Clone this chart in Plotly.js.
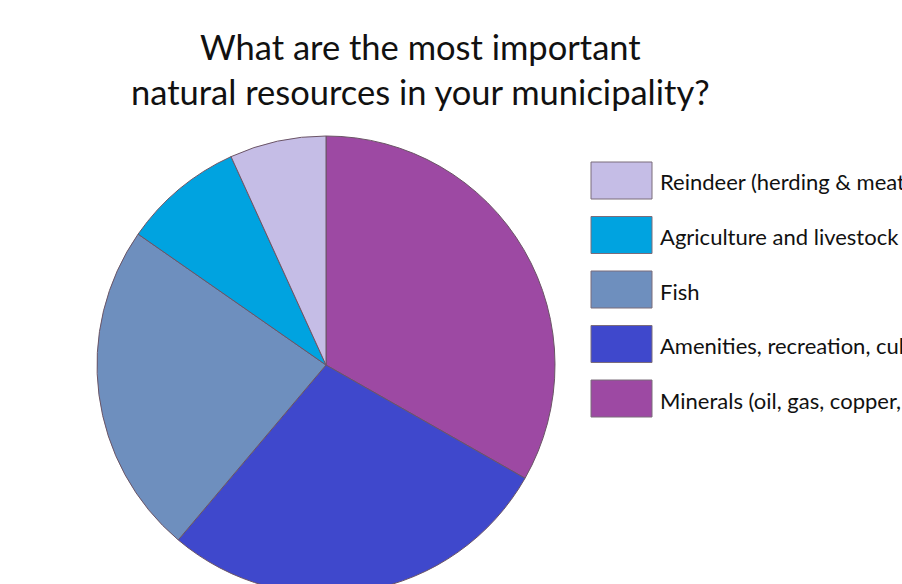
<!DOCTYPE html>
<html>
<head>
<meta charset="utf-8">
<script src="https://cdn.plot.ly/plotly-3.0.1.min.js"></script>
<style>html,body{margin:0;padding:0;overflow:hidden;background:#fff;}#chart{width:902px;height:620px;}</style>
</head>
<body>
<div id="chart"></div>
<script>
const categories = ["Reindeer (herding & meat)", "Agriculture and livestock", "Fish", "Amenities, recreation, culture", "Minerals (oil, gas, copper, gold)"];
const shares = [6.8, 8.5, 23.5, 27.9, 33.2];
const colors = ["#c5bde6", "#00a3e0", "#6e8fbe", "#3f48cc", "#9d49a3"];
const titleLines = ["What are the most important", "natural resources in your municipality?"];

const W = 902, H = 620;
const FONT = "Lato, 'Open Sans', sans-serif";

const shapes = [], annotations = [];
categories.forEach((c, i) => {
  const top = 162 + i * 54.5, bot = top + 37;
  shapes.push({type: "rect", xref: "paper", yref: "paper",
    x0: 591 / W, x1: 652 / W, y0: 1 - bot / H, y1: 1 - top / H,
    fillcolor: colors[i], line: {color: "#7b6c7b", width: 1}});
  annotations.push({xref: "paper", yref: "paper", x: 658 / W, y: 1 - (top + 20) / H,
    xanchor: "left", yanchor: "middle", showarrow: false, text: c,
    font: {family: FONT, size: 22, color: "#111"}});
});
titleLines.forEach((t, i) => {
  annotations.push({xref: "paper", yref: "paper", x: 420 / W, y: 1 - (69 + i * 45) / H,
    xanchor: "center", yanchor: "bottom", showarrow: false, text: t,
    font: {family: FONT, size: 34.5, color: "#111"}});
});

// pie drawn clockwise from 12 o'clock in reverse legend order
const data = [{
  type: "pie", labels: categories.slice().reverse(), values: shares.slice().reverse(), sort: false,
  direction: "clockwise", rotation: 0,
  marker: {colors: colors.slice().reverse(), line: {color: "#6b5566", width: 1}},
  textinfo: "none", hoverinfo: "label+percent", showlegend: false,
  domain: {x: [97 / W, 555 / W], y: [1 - 594 / H, 1 - 136 / H]}
}];

const layout = {
  width: W, height: H, margin: {l: 0, r: 0, t: 0, b: 0},
  paper_bgcolor: "#fff", plot_bgcolor: "#fff",
  font: {family: FONT},
  shapes: shapes, annotations: annotations
};
Plotly.newPlot("chart", data, layout, {displayModeBar: false, staticPlot: true});
</script>
</body>
</html>
